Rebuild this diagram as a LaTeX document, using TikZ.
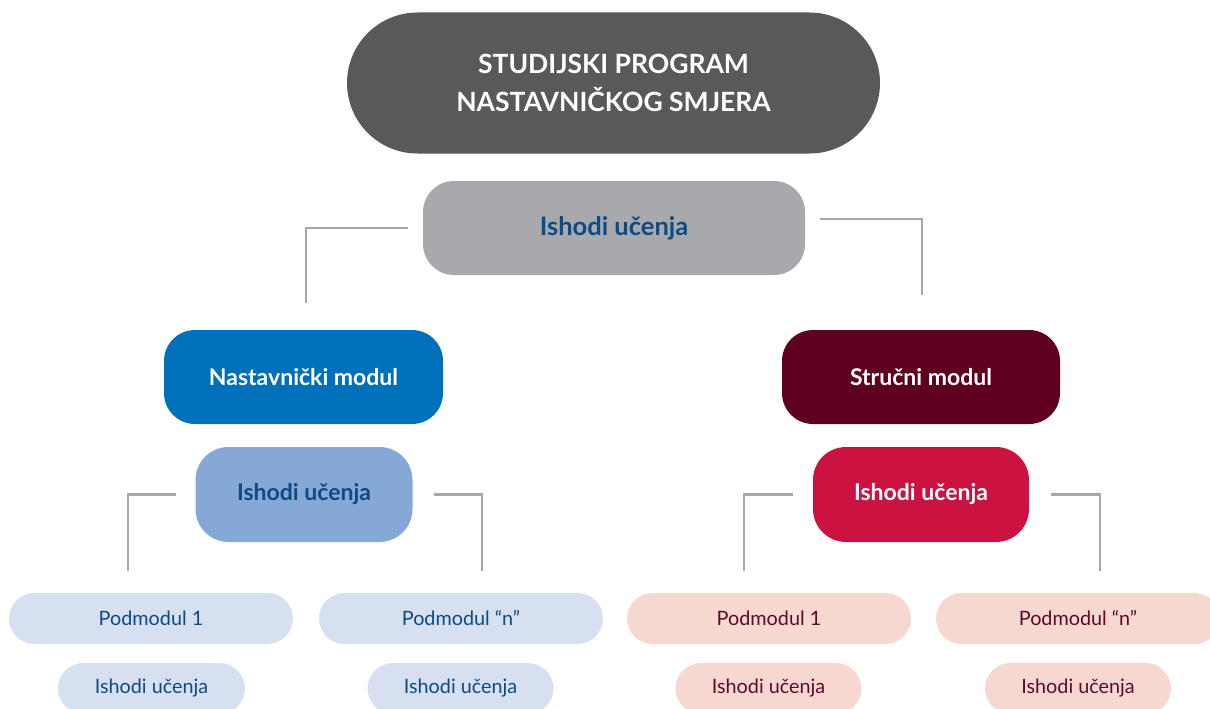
\documentclass[tikz,border=0pt]{standalone}
\usepackage{fontspec}
\setmainfont{Lato}
\definecolor{dkgray}{HTML}{58595B}
\definecolor{ltgray}{HTML}{A7A9AC}
\definecolor{lnGray}{HTML}{A5A7AA}
\definecolor{nblue}{HTML}{0070BA}
\definecolor{maroon}{HTML}{5F0022}
\definecolor{lblue}{HTML}{85A8D6}
\definecolor{sred}{HTML}{CC1240}
\definecolor{pblue}{HTML}{D6E0F0}
\definecolor{ppink}{HTML}{F6D8D1}
\definecolor{tblue}{HTML}{0E4A84}
\definecolor{tmaroon}{HTML}{5F0A2A}
\tikzset{
  box/.style={draw=none, inner sep=0pt, align=center},
  bigbox/.style={box, fill=#1, minimum height=94pt, rounded corners=31pt},
  pillbox/.style={box, fill=#1, minimum height=51pt, rounded corners=25.5pt, font=\fontsize{19.8}{23}\selectfont},
  conn/.style={draw=lnGray, line width=2.6pt},
  btext/.style={font=\bfseries\fontsize{23}{27}\selectfont}
}
\begin{document}
\begin{tikzpicture}[x=1pt,y=-1pt]
\useasboundingbox (0,0) rectangle (1210,709);
\clip (0,0) rectangle (1210,709);
% top
\node[box, fill=dkgray, minimum width=533pt, minimum height=141pt, rounded corners=70.5pt,
      text=white, font=\bfseries\fontsize{26.5}{38}\selectfont] (top) at (613.5,83)
  {STUDIJSKI PROGRAM\\NASTAVNIČKOG SMJERA};
% level 1
\node[bigbox=ltgray, minimum width=382pt, text=tblue, font=\bfseries\fontsize{25.5}{30}\selectfont] (ish) at (614,228) {Ishodi učenja};
% modules
\node[bigbox=nblue, minimum width=279pt, btext, text=white] (nast) at (303.5,377) {Nastavnički modul};
\node[bigbox=maroon, minimum width=278pt, btext, text=white] (stru) at (921,377) {Stručni modul};
% module outcomes
\node[bigbox=lblue, minimum width=217pt, minimum height=95pt, rounded corners=33pt, btext, text=tblue] (ishL) at (304,494.5) {Ishodi učenja};
\node[bigbox=sred, minimum width=216pt, minimum height=95pt, rounded corners=33pt, btext, text=white] (ishR) at (921,494.5) {Ishodi učenja};
% submodules
\node[pillbox=pblue, minimum width=284pt, text=tblue] (p1) at (151,618.5) {Podmodul 1};
\node[pillbox=pblue, minimum width=284pt, text=tblue] (p2) at (461,618.5) {Podmodul “n”};
\node[pillbox=ppink, minimum width=284pt, text=tmaroon] (p3) at (769,618.5) {Podmodul 1};
\node[pillbox=ppink, minimum width=284pt, text=tmaroon] (p4) at (1078,618.5) {Podmodul “n”};
% submodule outcomes
\node[pillbox=pblue, minimum width=187pt, text=tblue] (s1) at (151.5,688.5) {Ishodi učenja};
\node[pillbox=pblue, minimum width=186pt, text=tblue] (s2) at (460.5,688.5) {Ishodi učenja};
\node[pillbox=ppink, minimum width=186pt, text=tmaroon] (s3) at (768.5,688.5) {Ishodi učenja};
\node[pillbox=ppink, minimum width=186pt, text=tmaroon] (s4) at (1078,688.5) {Ishodi učenja};
% connector ends
\coordinate (e0l) at (306,303);
\coordinate (e0r) at (922,295);
\coordinate (e1) at (128,571);
\coordinate (e2) at (482,571);
\coordinate (e3) at (744,571);
\coordinate (e4) at (1100,571);
% connectors
\draw[conn] ([xshift=-15pt]ish.west) -| (e0l);
\draw[conn] ([xshift=15pt,yshift=9pt]ish.east) -| (e0r);
\draw[conn] ([xshift=-19pt]ishL.west) -| (e1);
\draw[conn] ([xshift=21pt]ishL.east) -| (e2);
\draw[conn] ([xshift=-20pt]ishR.west) -| (e3);
\draw[conn] ([xshift=22pt]ishR.east) -| (e4);
\end{tikzpicture}
\end{document}
